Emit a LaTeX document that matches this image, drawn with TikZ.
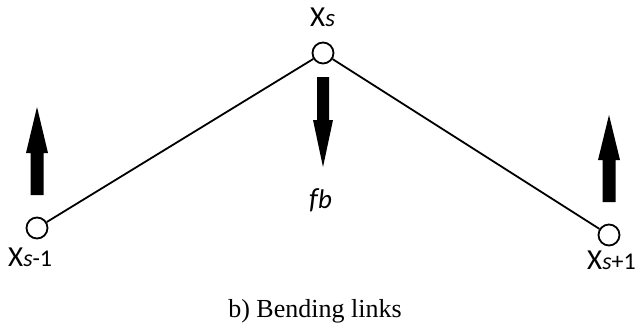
\documentclass[tikz,border=0pt]{standalone}
\usepackage{fontspec}
\setmainfont{Liberation Serif}
\newfontfamily\lblfont{Carlito}
\begin{document}
\begin{tikzpicture}[x=1pt,y=-1pt,
  joint/.style={circle,draw=black,line width=1.8pt,fill=white,inner sep=0pt,minimum size=21pt},
  link/.style={line width=1.8pt,black},
  lbl/.style={font=\lblfont\fontsize{29}{29}\selectfont,inner sep=0pt,anchor=base west},
  forcearrow/.style={fill=black,draw=none}]
\useasboundingbox (0,0) rectangle (644,329);
\node[joint] (xs) at (323,53) {};
\node[joint] (xl) at (37,228) {};
\node[joint] (xr) at (609,235) {};
\draw[link] (xl) -- (xs);
\draw[link] (xs) -- (xr);
% force arrows
\fill[forcearrow] (30.5,195) -- (43.5,195) -- (43.5,153) -- (48,153) -- (37,107) -- (26,153) -- (30.5,153) -- cycle;
\fill[forcearrow] (602.5,202) -- (615.5,202) -- (615.5,160) -- (620,160) -- (609,115) -- (598,160) -- (602.5,160) -- cycle;
\fill[forcearrow] (317,77) -- (329,77) -- (329,120) -- (333,120) -- (323,167) -- (313,120) -- (317,120) -- cycle;
% labels
\node[lbl] (lxs) at (310,27) {X{\fontsize{25}{25}\selectfont\itshape s}};
\node[lbl] (lxl) at (8,266) {X{\fontsize{24}{24}\selectfont\itshape s\upshape-1}};
\node[lbl] (lxr) at (587,269) {X{\fontsize{24}{24}\selectfont\itshape s\upshape+1}};
\node[lbl] (lfb) at (309,208) {\itshape f{\fontsize{27}{27}\selectfont b}};
\node[font=\fontsize{26}{26}\selectfont,inner sep=0pt,anchor=base] (cap) at (315,317) {b) Bending links};
\end{tikzpicture}
\end{document}
